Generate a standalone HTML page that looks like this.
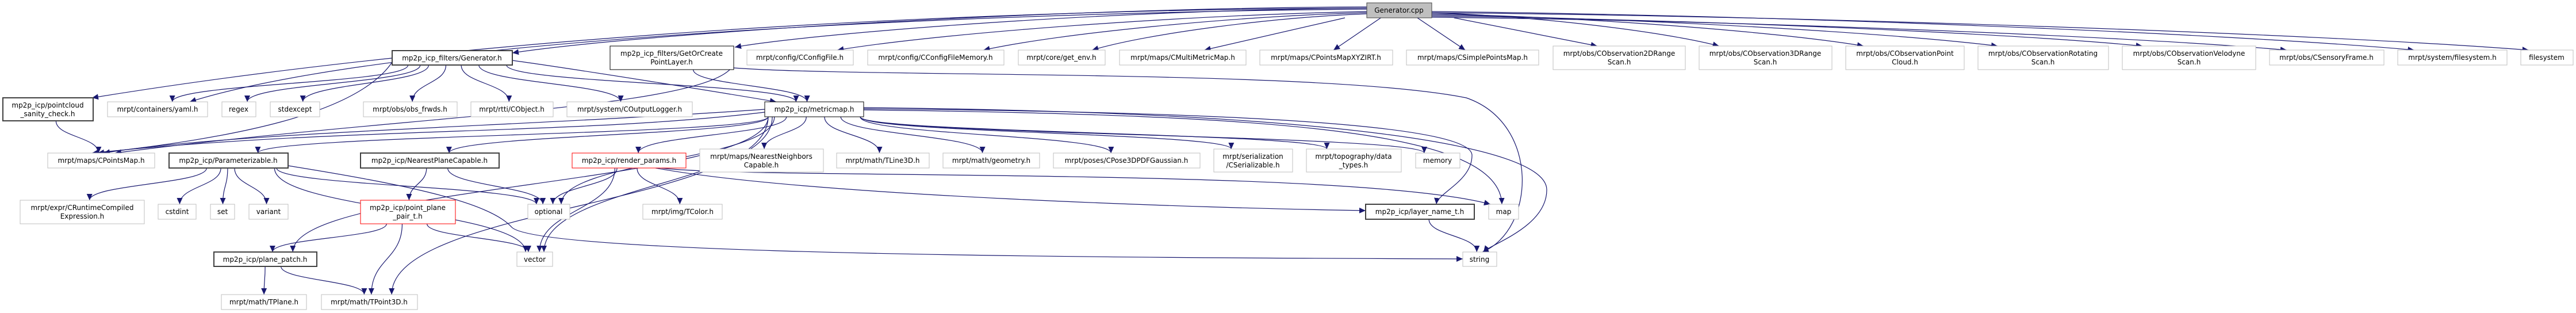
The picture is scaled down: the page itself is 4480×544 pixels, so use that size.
<!DOCTYPE html>
<html><head><meta charset="utf-8">
<style>
html,body{margin:0;padding:0;background:#fff;width:4480px;height:544px;overflow:hidden}
svg{display:block}
text{font-family:"DejaVu Sans","Liberation Sans",sans-serif;font-size:12px;fill:#000;text-anchor:middle}
</style></head>
<body>
<svg id="g" width="4480" height="544" viewBox="0 0 4480 544" xmlns="http://www.w3.org/2000/svg">
<defs>
<marker id="ah" markerUnits="userSpaceOnUse" markerWidth="12" markerHeight="10" refX="11" refY="5" orient="auto">
<path d="M0,0 L11,5 L0,10 z" fill="#191970"/>
</marker>
</defs>
<g id="edges" fill="none" stroke="#191970" stroke-width="1.2"></g>
<g id="nodes">
<rect x="2377" y="5" width="113" height="26" fill="#bfbfbf" stroke="#404040"/><text x="2433" y="22">Generator.cpp</text>

<rect x="682" y="88" width="209" height="25" fill="#fff" stroke="#404040" stroke-width="2"/><text x="786" y="105">mp2p_icp_filters/Generator.h</text>
<rect x="1061" y="80" width="215" height="41" fill="#fff" stroke="#000"/><text x="1168" y="97">mp2p_icp_filters/GetOrCreate</text><text x="1168" y="112">PointLayer.h</text>
<rect x="1299" y="87" width="185" height="26" fill="#fff" stroke="#bfbfbf"/><text x="1391" y="104">mrpt/config/CConfigFile.h</text>
<rect x="1509" y="87" width="237" height="26" fill="#fff" stroke="#bfbfbf"/><text x="1627" y="104">mrpt/config/CConfigFileMemory.h</text>
<rect x="1771" y="87" width="151" height="26" fill="#fff" stroke="#bfbfbf"/><text x="1846" y="104">mrpt/core/get_env.h</text>
<rect x="1947" y="87" width="220" height="26" fill="#fff" stroke="#bfbfbf"/><text x="2057" y="104">mrpt/maps/CMultiMetricMap.h</text>
<rect x="2191" y="87" width="231" height="26" fill="#fff" stroke="#bfbfbf"/><text x="2306" y="104">mrpt/maps/CPointsMapXYZIRT.h</text>
<rect x="2446" y="87" width="230" height="26" fill="#fff" stroke="#bfbfbf"/><text x="2561" y="104">mrpt/maps/CSimplePointsMap.h</text>
<rect x="2701" y="80" width="230" height="41" fill="#fff" stroke="#bfbfbf"/><text x="2816" y="97">mrpt/obs/CObservation2DRange</text><text x="2816" y="112">Scan.h</text>
<rect x="2955" y="80" width="231" height="41" fill="#fff" stroke="#bfbfbf"/><text x="3070" y="97">mrpt/obs/CObservation3DRange</text><text x="3070" y="112">Scan.h</text>
<rect x="3210" y="80" width="206" height="41" fill="#fff" stroke="#bfbfbf"/><text x="3313" y="97">mrpt/obs/CObservationPoint</text><text x="3313" y="112">Cloud.h</text>
<rect x="3440" y="80" width="227" height="41" fill="#fff" stroke="#bfbfbf"/><text x="3553" y="97">mrpt/obs/CObservationRotating</text><text x="3553" y="112">Scan.h</text>
<rect x="3691" y="80" width="232" height="41" fill="#fff" stroke="#bfbfbf"/><text x="3807" y="97">mrpt/obs/CObservationVelodyne</text><text x="3807" y="112">Scan.h</text>
<rect x="3947" y="87" width="199" height="26" fill="#fff" stroke="#bfbfbf"/><text x="4046" y="104">mrpt/obs/CSensoryFrame.h</text>
<rect x="4170" y="87" width="190" height="26" fill="#fff" stroke="#bfbfbf"/><text x="4265" y="104">mrpt/system/filesystem.h</text>
<rect x="4384" y="87" width="91" height="26" fill="#fff" stroke="#bfbfbf"/><text x="4429" y="104">filesystem</text>

<rect x="5" y="170" width="157" height="40" fill="#fff" stroke="#404040" stroke-width="2"/><text x="83" y="187">mp2p_icp/pointcloud</text><text x="83" y="202">_sanity_check.h</text>
<rect x="187" y="177" width="174" height="26" fill="#fff" stroke="#bfbfbf"/><text x="274" y="194">mrpt/containers/yaml.h</text>
<rect x="386" y="177" width="59" height="26" fill="#fff" stroke="#bfbfbf"/><text x="415" y="194">regex</text>
<rect x="470" y="177" width="86" height="26" fill="#fff" stroke="#bfbfbf"/><text x="513" y="194">stdexcept</text>
<rect x="632" y="177" width="163" height="26" fill="#fff" stroke="#bfbfbf"/><text x="713" y="194">mrpt/obs/obs_frwds.h</text>
<rect x="819" y="177" width="143" height="26" fill="#fff" stroke="#bfbfbf"/><text x="890" y="194">mrpt/rtti/CObject.h</text>
<rect x="986" y="177" width="218" height="26" fill="#fff" stroke="#bfbfbf"/><text x="1095" y="194">mrpt/system/COutputLogger.h</text>
<rect x="1330" y="177" width="172" height="26" fill="#fff" stroke="#000"/><text x="1416" y="194">mp2p_icp/metricmap.h</text>

<rect x="83" y="266" width="186" height="26" fill="#fff" stroke="#bfbfbf"/><text x="176" y="283">mrpt/maps/CPointsMap.h</text>
<rect x="294" y="266" width="207" height="26" fill="#fff" stroke="#404040" stroke-width="2"/><text x="397" y="283">mp2p_icp/Parameterizable.h</text>
<rect x="627" y="266" width="241" height="26" fill="#fff" stroke="#404040" stroke-width="2"/><text x="747" y="283">mp2p_icp/NearestPlaneCapable.h</text>
<rect x="995" y="266" width="198" height="26" fill="#fff" stroke="#ff0000"/><text x="1094" y="283">mp2p_icp/render_params.h</text>
<rect x="1217" y="259" width="215" height="40" fill="#fff" stroke="#bfbfbf"/><text x="1324" y="276">mrpt/maps/NearestNeighbors</text><text x="1324" y="291">Capable.h</text>
<rect x="1455" y="266" width="161" height="26" fill="#fff" stroke="#bfbfbf"/><text x="1535" y="283">mrpt/math/TLine3D.h</text>
<rect x="1640" y="266" width="168" height="26" fill="#fff" stroke="#bfbfbf"/><text x="1724" y="283">mrpt/math/geometry.h</text>
<rect x="1832" y="266" width="255" height="26" fill="#fff" stroke="#bfbfbf"/><text x="1959" y="283">mrpt/poses/CPose3DPDFGaussian.h</text>
<rect x="2111" y="259" width="137" height="40" fill="#fff" stroke="#bfbfbf"/><text x="2179" y="276">mrpt/serialization</text><text x="2179" y="291">/CSerializable.h</text>
<rect x="2272" y="259" width="165" height="40" fill="#fff" stroke="#bfbfbf"/><text x="2354" y="276">mrpt/topography/data</text><text x="2354" y="291">_types.h</text>
<rect x="2462" y="266" width="77" height="26" fill="#fff" stroke="#bfbfbf"/><text x="2500" y="283">memory</text>

<rect x="35" y="348" width="216" height="41" fill="#fff" stroke="#bfbfbf"/><text x="143" y="365">mrpt/expr/CRuntimeCompiled</text><text x="143" y="380">Expression.h</text>
<rect x="275" y="355" width="66" height="26" fill="#fff" stroke="#bfbfbf"/><text x="308" y="372">cstdint</text>
<rect x="366" y="355" width="42" height="26" fill="#fff" stroke="#bfbfbf"/><text x="387" y="372">set</text>
<rect x="433" y="355" width="68" height="26" fill="#fff" stroke="#bfbfbf"/><text x="467" y="372">variant</text>
<rect x="627" y="348" width="165" height="41" fill="#fff" stroke="#ff0000"/><text x="709" y="365">mp2p_icp/point_plane</text><text x="709" y="380">_pair_t.h</text>
<rect x="918" y="355" width="73" height="26" fill="#fff" stroke="#bfbfbf"/><text x="954" y="372">optional</text>
<rect x="1118" y="355" width="138" height="26" fill="#fff" stroke="#bfbfbf"/><text x="1187" y="372">mrpt/img/TColor.h</text>
<rect x="2375" y="355" width="189" height="26" fill="#fff" stroke="#404040" stroke-width="2"/><text x="2469" y="372">mp2p_icp/layer_name_t.h</text>
<rect x="2589" y="355" width="52" height="26" fill="#fff" stroke="#bfbfbf"/><text x="2615" y="372">map</text>

<rect x="372" y="438" width="179" height="25" fill="#fff" stroke="#404040" stroke-width="2"/><text x="461" y="455">mp2p_icp/plane_patch.h</text>
<rect x="899" y="438" width="62" height="25" fill="#fff" stroke="#bfbfbf"/><text x="930" y="455">vector</text>
<rect x="2544" y="438" width="59" height="25" fill="#fff" stroke="#bfbfbf"/><text x="2573" y="455">string</text>

<rect x="385" y="512" width="148" height="26" fill="#fff" stroke="#bfbfbf"/><text x="459" y="529">mrpt/math/TPlane.h</text>
<rect x="559" y="512" width="167" height="26" fill="#fff" stroke="#bfbfbf"/><text x="642" y="529">mrpt/math/TPoint3D.h</text>
</g>
</svg>
<script>
var N={
cpp:[2377,5,2490,31],genh:[682,88,891,113],goc:[1061,80,1276,121],ccf:[1299,87,1484,113],ccfm:[1509,87,1746,113],
env:[1771,87,1922,113],mmm:[1947,87,2167,113],xyz:[2191,87,2422,113],spm:[2446,87,2676,113],o2d:[2701,80,2931,121],
o3d:[2955,80,3186,121],opc:[3210,80,3416,121],orot:[3440,80,3667,121],ovel:[3691,80,3923,121],sf:[3947,87,4146,113],
fsh:[4170,87,4360,113],fs:[4384,87,4475,113],
san:[5,170,162,210],yaml:[187,177,361,203],regex:[386,177,445,203],stdex:[470,177,556,203],frwd:[632,177,795,203],
cobj:[819,177,962,203],log:[986,177,1204,203],mm:[1330,177,1502,203],
cpm:[83,266,269,292],par:[294,266,501,292],npc:[627,266,868,292],rp:[995,266,1193,292],nn:[1217,259,1432,299],
tl:[1455,266,1616,292],geo:[1640,266,1808,292],pose:[1832,266,2087,292],ser:[2111,259,2248,299],topo:[2272,259,2437,299],
mem:[2462,266,2539,292],
crc:[35,348,251,389],cst:[275,355,341,381],set:[366,355,408,381],var:[433,355,501,381],ppp:[627,348,792,389],
opt:[918,355,991,381],tc:[1118,355,1256,381],lnt:[2375,355,2564,381],map:[2589,355,2641,381],
pp:[372,438,551,463],vec:[899,438,961,463],str:[2544,438,2603,463],
tpl:[385,512,533,538],tp3:[559,512,726,538]};
var E=[
['genh','yaml'],['genh','regex'],['genh','stdex'],['genh','frwd'],['genh','cobj'],['genh','log'],['genh','mm'],
['goc','mm'],
['san','cpm'],
['mm','par'],['mm','npc'],['mm','rp'],['mm','nn'],['mm','tl'],['mm','geo'],['mm','pose'],['mm','ser'],
['mm','topo'],['mm','mem'],['mm','opt'],['mm','vec'],['mm','pp'],['mm','tp3'],
['par','crc'],['par','cst'],['par','set'],['par','var'],['par','opt'],['par','vec'],
['npc','ppp'],['npc','opt'],
['rp','opt'],['rp','tc'],['rp','vec'],
['ppp','pp'],['ppp','tp3'],['ppp','vec'],
['pp','tpl'],['pp','tp3'],['lnt','str']];
var C=['ccf','ccfm','env','mmm','xyz','spm','o2d','o3d','opc','orot','ovel','sf','fsh','fs'];
var P=[
'M2377,14 C1800,16 900,50 160,170',
'M2377,16 C1800,20 700,60 330,177',
'M2377,12 C1800,14 1100,60 891,92',
'M2377,14 C1900,18 1400,60 1278,82',
'M1502,189 C2200,195 2560,220 2560,270 C2560,315 2500,335 2498,355',
'M1502,191 C2250,200 2608,230 2612,355',
'M1502,187 C2300,195 2690,250 2690,330 C2690,395 2590,425 2580,438',
'M1276,118 C1500,135 2300,120 2550,170 C2680,215 2670,400 2578,438',
'M1150,292 C1300,312 2350,290 2592,355',
'M1140,292 C1400,340 2100,362 2375,366',
'M501,288 C700,320 850,350 890,395 C940,445 2000,448 2544,450',
'M1330,190 C900,220 400,230 180,266',
'M1330,195 C1000,235 600,220 160,266',
'M1276,112 C1240,190 700,200 200,266',
'M891,105 C1000,120 1250,160 1350,177',
'M682,108 C620,200 400,240 170,266'
];
var g=document.getElementById('edges'),ns='http://www.w3.org/2000/svg';
function add(d){var p=document.createElementNS(ns,'path');p.setAttribute('d',d);p.setAttribute('marker-end','url(#ah)');g.appendChild(p);}
E.forEach(function(e){
 var s=N[e[0]],t=N[e[1]];
 var scx=(s[0]+s[2])/2,tcx=(t[0]+t[2])/2,sw=s[2]-s[0],tw=t[2]-t[0];
 var dx=tcx-scx;
 var sx=scx+Math.max(-sw/2+6,Math.min(sw/2-6,dx*0.15)),sy=s[3];
 var tx=tcx-Math.max(-tw/2+15,Math.min(tw/2-15,dx*0.05)),ty=t[1];
 var m=(sy+ty)/2;
 add('M'+sx+','+sy+' C'+sx+','+m+' '+tx+','+m+' '+tx+','+ty);
});
C.forEach(function(k,i){
 var t=N[k],tcx=(t[0]+t[2])/2,tw=t[2]-t[0];
 var left=tcx<2433, sx, sy, tx, ty=t[1];
 if(Math.abs(tcx-2433)<400){sx=2433+(tcx-2433)*0.25;sy=31;tx=tcx+(2433-tcx)*0.1;
   add('M'+sx+','+sy+' L'+tx+','+ty);return;}
 sx=left?2377:2490; sy=20+(i%6)*2;
 tx=left?Math.min(t[2]-8,tcx+tw*0.35):Math.max(t[0]+8,tcx-tw*0.35);
 var ddx=tx-sx, ddy=ty-sy;
 add('M'+sx+','+sy+' C'+(sx+ddx*0.35)+','+(sy+ddy*0.1)+' '+(sx+ddx*0.8)+','+(sy+ddy*0.55)+' '+tx+','+ty);
});
P.forEach(add);
</script>
</body></html>
